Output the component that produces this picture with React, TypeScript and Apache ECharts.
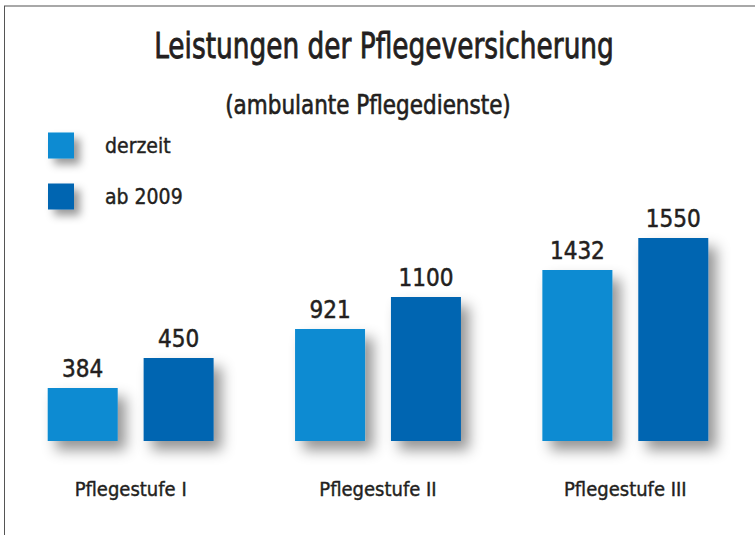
import React, { useEffect, useRef } from "react";
import * as echarts from "echarts";

const titleText = "Leistungen der Pflegeversicherung";
const subtitleText = "(ambulante Pflegedienste)";
const categories = ["Pflegestufe I", "Pflegestufe II", "Pflegestufe III"];
const seriesNames = ["derzeit", "ab 2009"];
// amounts printed above the bars
const valuesNow = [384, 921, 1432];
const values2009 = [450, 1100, 1550];
// the graphic is not drawn to scale: bar lengths as printed (arbitrary units)
const lengthsNow = [53, 112, 171];
const lengths2009 = [83, 144, 203];
const axisMax = 341;

const FONT = "'DejaVu Sans Condensed', 'Liberation Sans Narrow', 'Roboto', sans-serif";
const TEXT = "#231f20";
const COLORS = ["#0a8bd2", "#0465b1"];

export default function App() {
  const ref = useRef<HTMLDivElement>(null);
  useEffect(() => {
    document.body.style.margin = "0";
    if (!ref.current) return;
    const chart = echarts.init(ref.current, undefined, { renderer: "svg" });
    const shadow = {
      shadowColor: "rgba(0,0,0,0.42)",
      shadowBlur: 14,
      shadowOffsetX: 8,
      shadowOffsetY: 9,
    };
    const allValues = [valuesNow, values2009];
    const allLengths = [lengthsNow, lengths2009];
    chart.setOption({
      animation: false,
      backgroundColor: "#ffffff",
      textStyle: { fontFamily: FONT },
      graphic: [
        { type: "line", shape: { x1: 4, y1: 6, x2: 755, y2: 6 }, style: { stroke: "#a8a8a8", lineWidth: 2 } },
        { type: "line", shape: { x1: 4.5, y1: 6, x2: 4.5, y2: 535 }, style: { stroke: "#555555", lineWidth: 1 } },
        {
          type: "text",
          x: 384,
          y: 46,
          scaleX: 0.815,
          style: {
            text: titleText,
            fontFamily: FONT,
            fontSize: 36,
            fill: TEXT,
            stroke: TEXT,
            lineWidth: 0.8,
            align: "center",
            verticalAlign: "middle",
          },
        },
        {
          type: "text",
          x: 368,
          y: 105,
          scaleX: 0.92,
          style: {
            text: subtitleText,
            fontFamily: FONT,
            fontSize: 26,
            fill: TEXT,
            stroke: TEXT,
            lineWidth: 0.6,
            align: "center",
            verticalAlign: "middle",
          },
        },
      ],
      legend: {
        orient: "vertical",
        left: 48,
        top: 129,
        padding: 0,
        itemWidth: 26,
        itemHeight: 26,
        itemGap: 18,
        icon: "rect",
        data: seriesNames,
        textStyle: {
          fontFamily: FONT,
          fontSize: 21,
          lineHeight: 22,
          color: TEXT,
          textBorderColor: TEXT,
          textBorderWidth: 0.4,
          padding: [11, 0, 0, 26],
        },
        itemStyle: { shadowColor: "rgba(0,0,0,0.4)", shadowBlur: 8, shadowOffsetX: 6, shadowOffsetY: 6 },
      },
      grid: { left: 7, right: 6, top: 100, bottom: 94, containLabel: false },
      xAxis: {
        type: "category",
        data: categories,
        axisLine: { show: false },
        axisTick: { show: false },
        axisLabel: {
          fontFamily: FONT,
          fontSize: 20,
          color: TEXT,
          textBorderColor: TEXT,
          textBorderWidth: 0.4,
          margin: 48,
          verticalAlign: "middle",
        },
      },
      yAxis: {
        type: "value",
        min: 0,
        max: axisMax,
        show: false,
        splitLine: { show: false },
      },
      series: seriesNames.map((name, si) => ({
        name,
        type: "bar",
        barWidth: 70,
        barGap: "37%",
        data: allLengths[si],
        itemStyle: { color: COLORS[si], ...shadow },
        label: {
          show: true,
          position: "top",
          distance: 7,
          fontFamily: FONT,
          fontSize: 24,
          color: TEXT,
          textBorderColor: TEXT,
          textBorderWidth: 0.5,
          formatter: (p: any) => String(allValues[si][p.dataIndex]),
        },
      })),
    });
    return () => chart.dispose();
  }, []);
  return <div ref={ref} style={{ width: 755, height: 535 }} />;
}
